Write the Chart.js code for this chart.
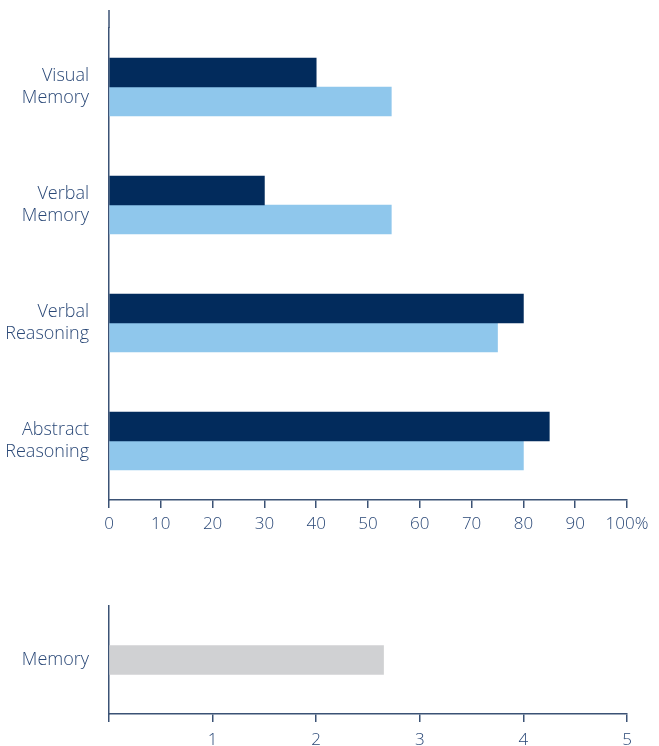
<!DOCTYPE html>
<html>
<head>
<meta charset="utf-8">
<script src="https://cdn.jsdelivr.net/npm/chart.js@4"></script>
<style>
  body { margin: 0; background: #fff; width: 659px; height: 746px; overflow: hidden; position: relative; }
  .box { position: absolute; left: 0; width: 659px; }
</style>
</head>
<body>
<div class="box" style="top:0;height:560px"><canvas id="topChart"></canvas></div>
<div class="box" style="top:590px;height:156px"><canvas id="bottomChart"></canvas></div>
<script>
// values
var categories = [['Visual', 'Memory'], ['Verbal', 'Memory'], ['Verbal', 'Reasoning'], ['Abstract', 'Reasoning']];
var darkValues = [40, 30, 80, 85];
var lightValues = [54.5, 54.5, 75, 80];
var memoryLabels = ['Memory'];
var memoryValues = [2.65];

var textColor = '#2a4877';
var axisColor = '#3b5275';
var tickFont = { family: 'Open Sans', size: 17, weight: '300' };
var labelFont = { family: 'Open Sans', size: 18, weight: '300', lineHeight: 1.22 };

// the y axis line runs a little above the plot area in the original
var axisExtend = {
	id: 'axisExtend',
	afterDraw: function(chart, args, opts) {
		if (!opts.top) return;
		var ctx = chart.ctx, a = chart.chartArea;
		ctx.save();
		ctx.strokeStyle = axisColor;
		ctx.lineWidth = 1.5;
		ctx.beginPath();
		ctx.moveTo(a.left, opts.top);
		ctx.lineTo(a.left, a.top);
		ctx.stroke();
		ctx.restore();
	}
};

function fixY(s) {
	s.width = 109;
	s.paddingTop = 0;
	s.paddingBottom = 0;
}

new Chart(document.getElementById('topChart'), {
	type: 'bar',
	data: {
		labels: categories,
		datasets: [
			{ label: 'Series 1', data: darkValues, backgroundColor: '#022b5c', barThickness: 29 },
			{ label: 'Series 2', data: lightValues, backgroundColor: '#8fc7ec', barThickness: 29 }
		]
	},
	plugins: [axisExtend],
	options: {
		indexAxis: 'y',
		responsive: true,
		maintainAspectRatio: false,
		animation: false,
		layout: { padding: { top: 28, right: 32, left: 0, bottom: 0 } },
		plugins: {
			legend: { display: false },
			tooltip: { enabled: false },
			axisExtend: { top: 10 }
		},
		scales: {
			x: {
				min: 0, max: 100,
				afterFit: function(s) { s.height = 60; },
				grid: { drawOnChartArea: false, drawTicks: true, tickLength: 8, color: axisColor, lineWidth: 1.5 },
				border: { display: true, color: axisColor, width: 1.5 },
				ticks: {
					stepSize: 10, color: textColor, font: tickFont, padding: 6, maxRotation: 0,
					callback: function(v) { return v === 100 ? '100%' : v; }
				}
			},
			y: {
				afterFit: fixY,
				grid: { drawOnChartArea: false, drawTicks: false },
				border: { display: true, color: axisColor, width: 1.5 },
				ticks: { color: textColor, font: labelFont, padding: 20 }
			}
		}
	}
});

new Chart(document.getElementById('bottomChart'), {
	type: 'bar',
	data: {
		labels: memoryLabels,
		datasets: [
			{ label: 'Memory', data: memoryValues, backgroundColor: '#d0d1d3', barThickness: 29 }
		]
	},
	options: {
		indexAxis: 'y',
		responsive: true,
		maintainAspectRatio: false,
		animation: false,
		layout: { padding: { top: 16, right: 32, left: 0, bottom: 0 } },
		plugins: { legend: { display: false }, tooltip: { enabled: false } },
		scales: {
			x: {
				min: 0, max: 5,
				afterFit: function(s) { s.height = 32; },
				grid: { drawOnChartArea: false, drawTicks: true, tickLength: 8, color: axisColor, lineWidth: 1.5 },
				border: { display: true, color: axisColor, width: 1.5 },
				ticks: {
					stepSize: 1, color: textColor, font: tickFont, padding: 8, maxRotation: 0,
					callback: function(v) { return v === 0 ? '' : v; }
				}
			},
			y: {
				afterFit: fixY,
				grid: { drawOnChartArea: false, drawTicks: false },
				border: { display: true, color: axisColor, width: 1.5 },
				ticks: { color: textColor, font: labelFont, padding: 20 }
			}
		}
	}
});
</script>
</body>
</html>
